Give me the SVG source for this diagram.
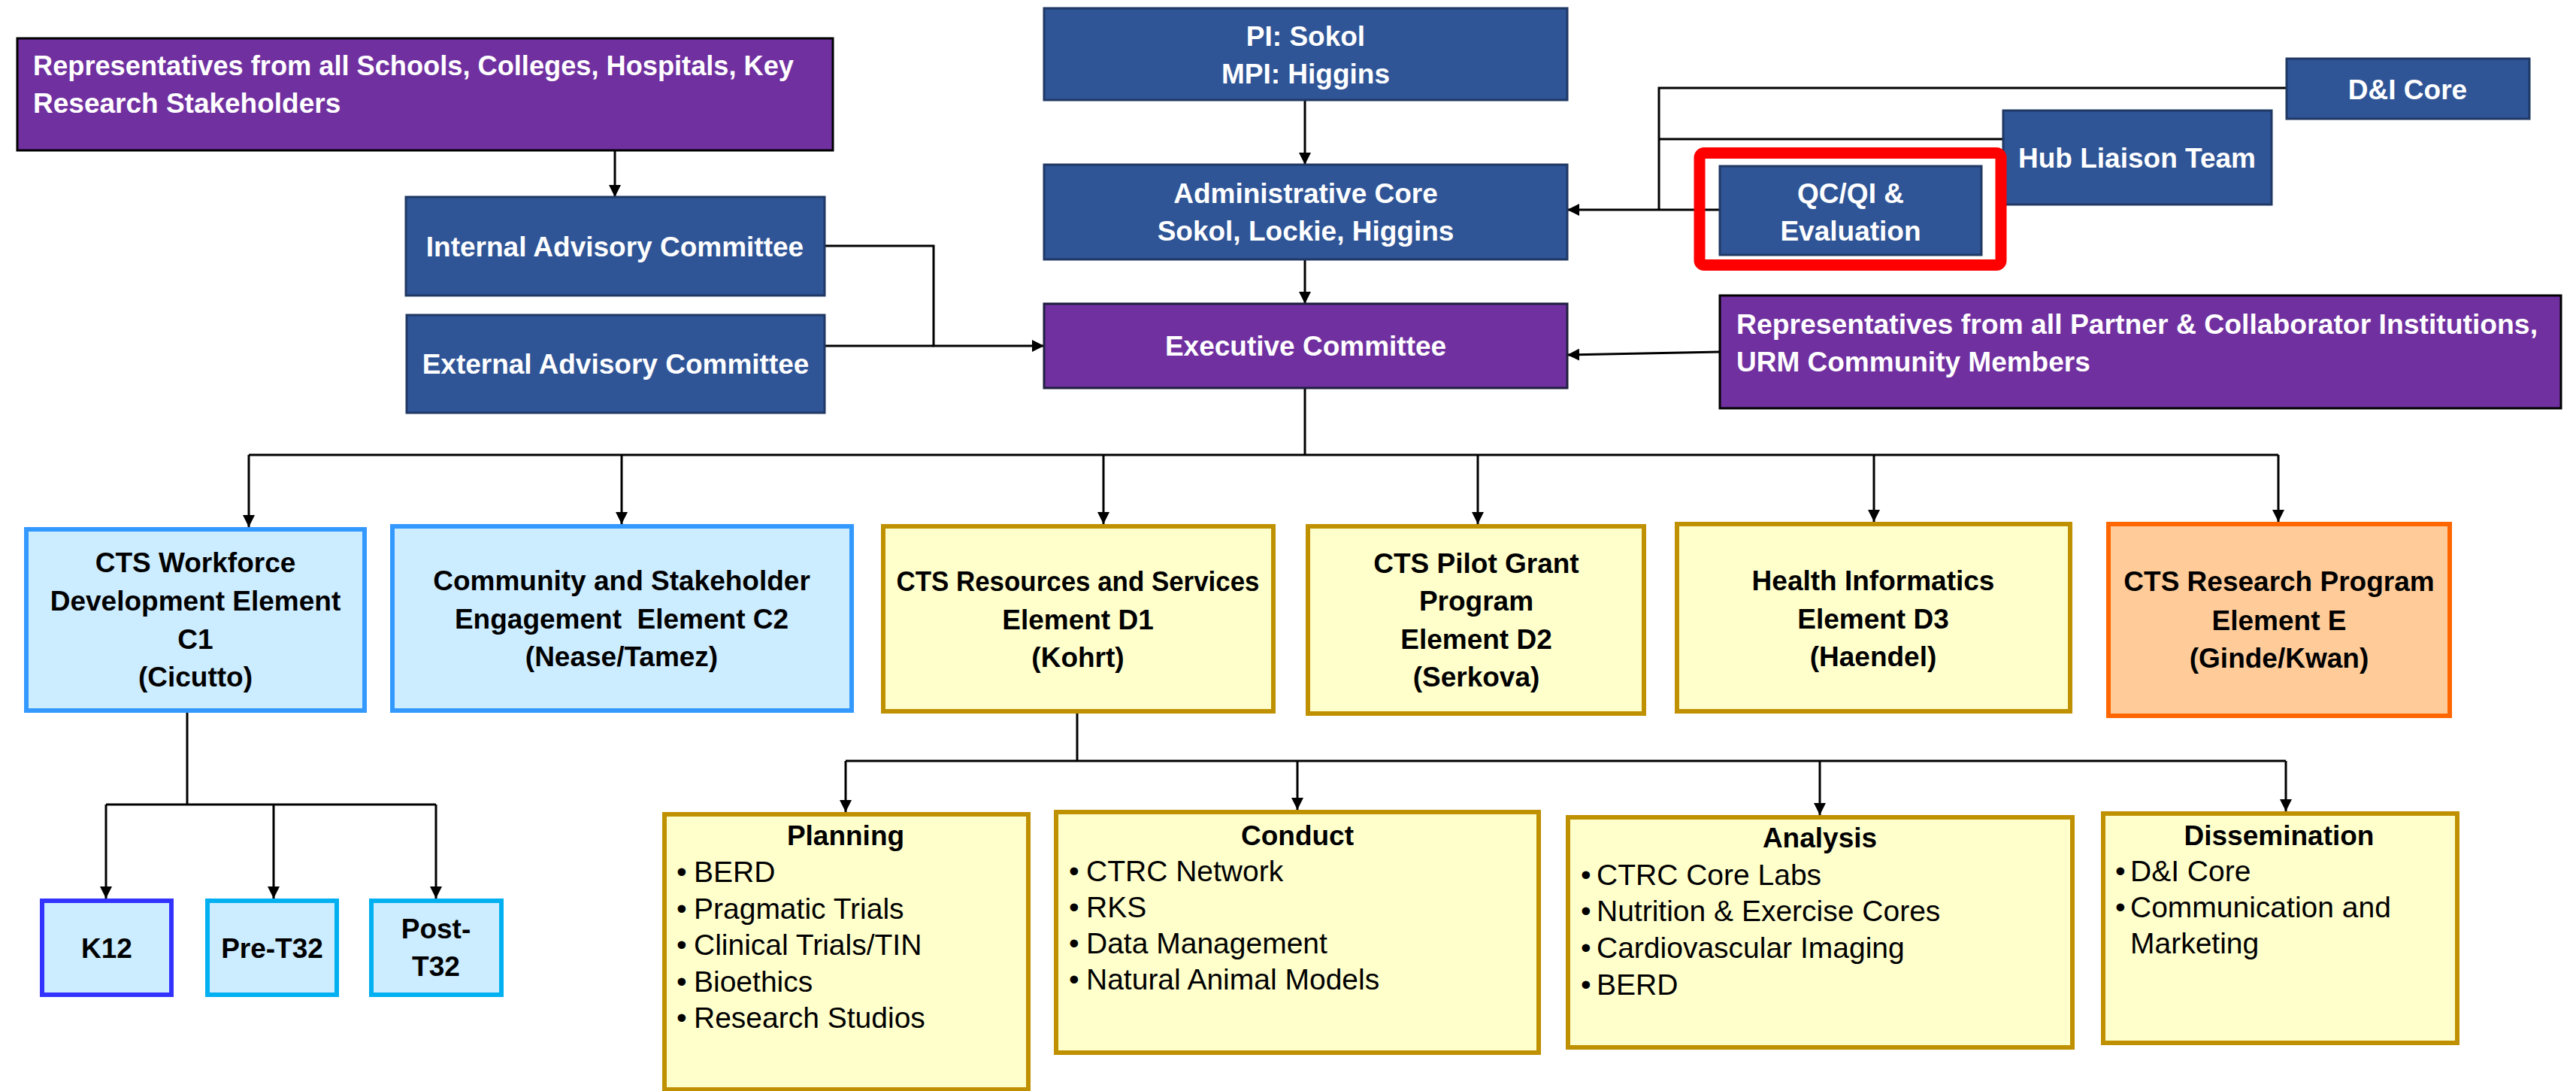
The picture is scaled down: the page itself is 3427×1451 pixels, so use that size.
<svg xmlns="http://www.w3.org/2000/svg" width="3427" height="1451" viewBox="0 0 3427 1451">
<style>
  .blue { fill: #2F5597; stroke: #203864; stroke-width: 3; }
  .purple { fill: #7030A0; stroke: #1F1F3F; stroke-width: 3; }
  .purpleB { fill: #7030A0; stroke: #000000; stroke-width: 3; }
  .lblue { fill: #CCECFF; stroke: #3399FF; stroke-width: 6; }
  .yel { fill: #FFFFCC; stroke: #BF9000; stroke-width: 6; }
  .org { fill: #FFCC99; stroke: #FF6600; stroke-width: 6; }
  .k12 { fill: #CCECFF; stroke: #3333FF; stroke-width: 6; }
  .cyan { fill: #CCECFF; stroke: #00B0F0; stroke-width: 6; }
  .red { fill: none; stroke: #FF0000; stroke-width: 15; }
  .wt { font-family: "Liberation Sans", Arial, sans-serif; font-weight: bold; font-size: 37px; fill: #FFFFFF; }
  .bt { font-family: "Liberation Sans", Arial, sans-serif; font-weight: bold; font-size: 37px; fill: #000000; }
  .c { text-anchor: middle; }
  .li { font-family: "Liberation Sans", Arial, sans-serif; font-size: 39px; fill: #000000; }
  .conn { fill: none; stroke: #000000; stroke-width: 3; }
</style>
<defs>
  <marker id="arr" markerUnits="userSpaceOnUse" markerWidth="16" markerHeight="16" viewBox="0 0 16 16" refX="16" refY="8" orient="auto">
    <path d="M0,0 L16,8 L0,16 z" fill="#000000"/>
  </marker>
</defs>
<rect width="3427" height="1451" fill="#FFFFFF"/>

<g id="connectors">
  <path class="conn" d="M818,200 V262" marker-end="url(#arr)"/>
  <path class="conn" d="M1097,327 H1242 V460 H1389" marker-end="url(#arr)"/>
  <path class="conn" d="M1097,460 H1242"/>
  <path class="conn" d="M1736,133 V219" marker-end="url(#arr)"/>
  <path class="conn" d="M1736,345 V404" marker-end="url(#arr)"/>
  <path class="conn" d="M3042,117 H2207 V279"/>
  <path class="conn" d="M2665,185 H2207"/>
  <path class="conn" d="M2288,279 H2085" marker-end="url(#arr)"/>
  <path class="conn" d="M2288,468 L2085,472" marker-end="url(#arr)"/>
  <path class="conn" d="M1736,516 V605"/>
  <path class="conn" d="M331,605 H3031"/>
  <path class="conn" d="M331,605 V701" marker-end="url(#arr)"/>
  <path class="conn" d="M827,605 V697" marker-end="url(#arr)"/>
  <path class="conn" d="M1468,605 V697" marker-end="url(#arr)"/>
  <path class="conn" d="M1966,605 V697" marker-end="url(#arr)"/>
  <path class="conn" d="M2493,605 V694" marker-end="url(#arr)"/>
  <path class="conn" d="M3031,605 V694" marker-end="url(#arr)"/>
  <path class="conn" d="M249,948 V1070"/>
  <path class="conn" d="M141,1070 H580"/>
  <path class="conn" d="M141,1070 V1195" marker-end="url(#arr)"/>
  <path class="conn" d="M364,1070 V1195" marker-end="url(#arr)"/>
  <path class="conn" d="M580,1070 V1195" marker-end="url(#arr)"/>
  <path class="conn" d="M1433,949 V1012"/>
  <path class="conn" d="M1125,1012 H3041"/>
  <path class="conn" d="M1125,1012 V1080" marker-end="url(#arr)"/>
  <path class="conn" d="M1726,1012 V1077" marker-end="url(#arr)"/>
  <path class="conn" d="M2421,1012 V1084" marker-end="url(#arr)"/>
  <path class="conn" d="M3041,1012 V1079" marker-end="url(#arr)"/>
</g>

<g id="reps-schools">
  <rect class="purpleB" x="23" y="51" width="1085" height="149"/>
  <text class="wt" x="44" y="100" textLength="1012" lengthAdjust="spacingAndGlyphs">Representatives from all Schools, Colleges, Hospitals, Key</text>
  <text class="wt" x="44" y="150">Research Stakeholders</text>
</g>
<g id="internal-advisory">
  <rect class="blue" x="540" y="262" width="557" height="131"/>
  <text class="wt c" x="818" y="341">Internal Advisory Committee</text>
</g>
<g id="external-advisory">
  <rect class="blue" x="541" y="419" width="556" height="130"/>
  <text class="wt c" x="819" y="497">External Advisory Committee</text>
</g>
<g id="pi">
  <rect class="blue" x="1389" y="11" width="696" height="122"/>
  <text class="wt c" x="1737" y="61">PI: Sokol</text>
  <text class="wt c" x="1737" y="111">MPI: Higgins</text>
</g>
<g id="admin-core">
  <rect class="blue" x="1389" y="219" width="696" height="126"/>
  <text class="wt c" x="1737" y="270">Administrative Core</text>
  <text class="wt c" x="1737" y="320">Sokol, Lockie, Higgins</text>
</g>
<g id="exec-committee">
  <rect class="purple" x="1389" y="404" width="696" height="112"/>
  <text class="wt c" x="1737" y="473">Executive Committee</text>
</g>
<g id="di-core-top">
  <rect class="blue" x="3042" y="78" width="323" height="80"/>
  <text class="wt c" x="3203" y="132">D&amp;I Core</text>
</g>
<g id="hub-liaison">
  <rect class="blue" x="2665" y="147" width="357" height="125"/>
  <text class="wt c" x="2843" y="223">Hub Liaison Team</text>
</g>
<g id="qcqi">
  <rect class="blue" x="2288" y="221" width="348" height="118"/>
  <text class="wt c" x="2462" y="270">QC/QI &amp;</text>
  <text class="wt c" x="2462" y="320">Evaluation</text>
  <rect class="red" x="2261" y="203.5" width="401" height="149" rx="6"/>
</g>
<g id="reps-partners">
  <rect class="purpleB" x="2288" y="393" width="1119" height="150"/>
  <text class="wt" x="2310" y="444" textLength="1066" lengthAdjust="spacingAndGlyphs">Representatives from all Partner &amp; Collaborator Institutions,</text>
  <text class="wt" x="2310" y="494">URM Community Members</text>
</g>

<g id="c1">
  <rect class="lblue" x="35" y="704" width="450" height="241"/>
  <text class="bt c" x="260" y="761">CTS Workforce</text>
  <text class="bt c" x="260" y="812">Development Element</text>
  <text class="bt c" x="260" y="863">C1</text>
  <text class="bt c" x="260" y="913">(Cicutto)</text>
</g>
<g id="c2">
  <rect class="lblue" x="522" y="700" width="611" height="245"/>
  <text class="bt c" x="827" y="785">Community and Stakeholder</text>
  <text class="bt c" x="827" y="836" xml:space="preserve">Engagement  Element C2</text>
  <text class="bt c" x="827" y="886">(Nease/Tamez)</text>
</g>
<g id="d1">
  <rect class="yel" x="1175" y="700" width="519" height="246"/>
  <text class="bt c" x="1434" y="786" textLength="483" lengthAdjust="spacingAndGlyphs">CTS Resources and Services</text>
  <text class="bt c" x="1434" y="837">Element D1</text>
  <text class="bt c" x="1434" y="887">(Kohrt)</text>
</g>
<g id="d2">
  <rect class="yel" x="1740" y="700" width="447" height="249"/>
  <text class="bt c" x="1964" y="762">CTS Pilot Grant</text>
  <text class="bt c" x="1964" y="812">Program</text>
  <text class="bt c" x="1964" y="863">Element D2</text>
  <text class="bt c" x="1964" y="913">(Serkova)</text>
</g>
<g id="d3">
  <rect class="yel" x="2231" y="697" width="523" height="249"/>
  <text class="bt c" x="2492" y="785">Health Informatics</text>
  <text class="bt c" x="2492" y="836">Element D3</text>
  <text class="bt c" x="2492" y="886">(Haendel)</text>
</g>
<g id="e">
  <rect class="org" x="2805" y="697" width="454" height="255"/>
  <text class="bt c" x="3032" y="786">CTS Research Program</text>
  <text class="bt c" x="3032" y="838">Element E</text>
  <text class="bt c" x="3032" y="888">(Ginde/Kwan)</text>
</g>

<g id="k12">
  <rect class="k12" x="56" y="1198" width="172" height="125"/>
  <text class="bt c" x="142" y="1274">K12</text>
</g>
<g id="pre-t32">
  <rect class="cyan" x="276" y="1198" width="172" height="125"/>
  <text class="bt c" x="362" y="1274">Pre-T32</text>
</g>
<g id="post-t32">
  <rect class="cyan" x="494" y="1198" width="173" height="125"/>
  <text class="bt c" x="580" y="1248">Post-</text>
  <text class="bt c" x="580" y="1298">T32</text>
</g>

<g id="planning">
  <rect class="yel" x="884" y="1083" width="484" height="366"/>
  <text class="bt c" x="1125" y="1124">Planning</text>
  <text class="li" x="900" y="1173">•</text><text class="li" x="923" y="1173">BERD</text>
  <text class="li" x="900" y="1222">•</text><text class="li" x="923" y="1222">Pragmatic Trials</text>
  <text class="li" x="900" y="1270">•</text><text class="li" x="923" y="1270">Clinical Trials/TIN</text>
  <text class="li" x="900" y="1319">•</text><text class="li" x="923" y="1319">Bioethics</text>
  <text class="li" x="900" y="1367">•</text><text class="li" x="923" y="1367">Research Studios</text>
</g>
<g id="conduct">
  <rect class="yel" x="1405" y="1080" width="642" height="320"/>
  <text class="bt c" x="1726" y="1124">Conduct</text>
  <text class="li" x="1422" y="1172">•</text><text class="li" x="1445" y="1172">CTRC Network</text>
  <text class="li" x="1422" y="1220">•</text><text class="li" x="1445" y="1220">RKS</text>
  <text class="li" x="1422" y="1268">•</text><text class="li" x="1445" y="1268">Data Management</text>
  <text class="li" x="1422" y="1316">•</text><text class="li" x="1445" y="1316">Natural Animal Models</text>
</g>
<g id="analysis">
  <rect class="yel" x="2086" y="1087" width="671" height="306"/>
  <text class="bt c" x="2421" y="1127">Analysis</text>
  <text class="li" x="2103" y="1177">•</text><text class="li" x="2124" y="1177">CTRC Core Labs</text>
  <text class="li" x="2103" y="1225">•</text><text class="li" x="2124" y="1225">Nutrition &amp; Exercise Cores</text>
  <text class="li" x="2103" y="1274">•</text><text class="li" x="2124" y="1274">Cardiovascular Imaging</text>
  <text class="li" x="2103" y="1323">•</text><text class="li" x="2124" y="1323">BERD</text>
</g>
<g id="dissemination">
  <rect class="yel" x="2798" y="1082" width="471" height="305"/>
  <text class="bt c" x="3032" y="1124">Dissemination</text>
  <text class="li" x="2814" y="1172">•</text><text class="li" x="2834" y="1172">D&amp;I Core</text>
  <text class="li" x="2814" y="1220">•</text><text class="li" x="2834" y="1220">Communication and</text>
  <text class="li" x="2834" y="1268">Marketing</text>
</g>
</svg>
